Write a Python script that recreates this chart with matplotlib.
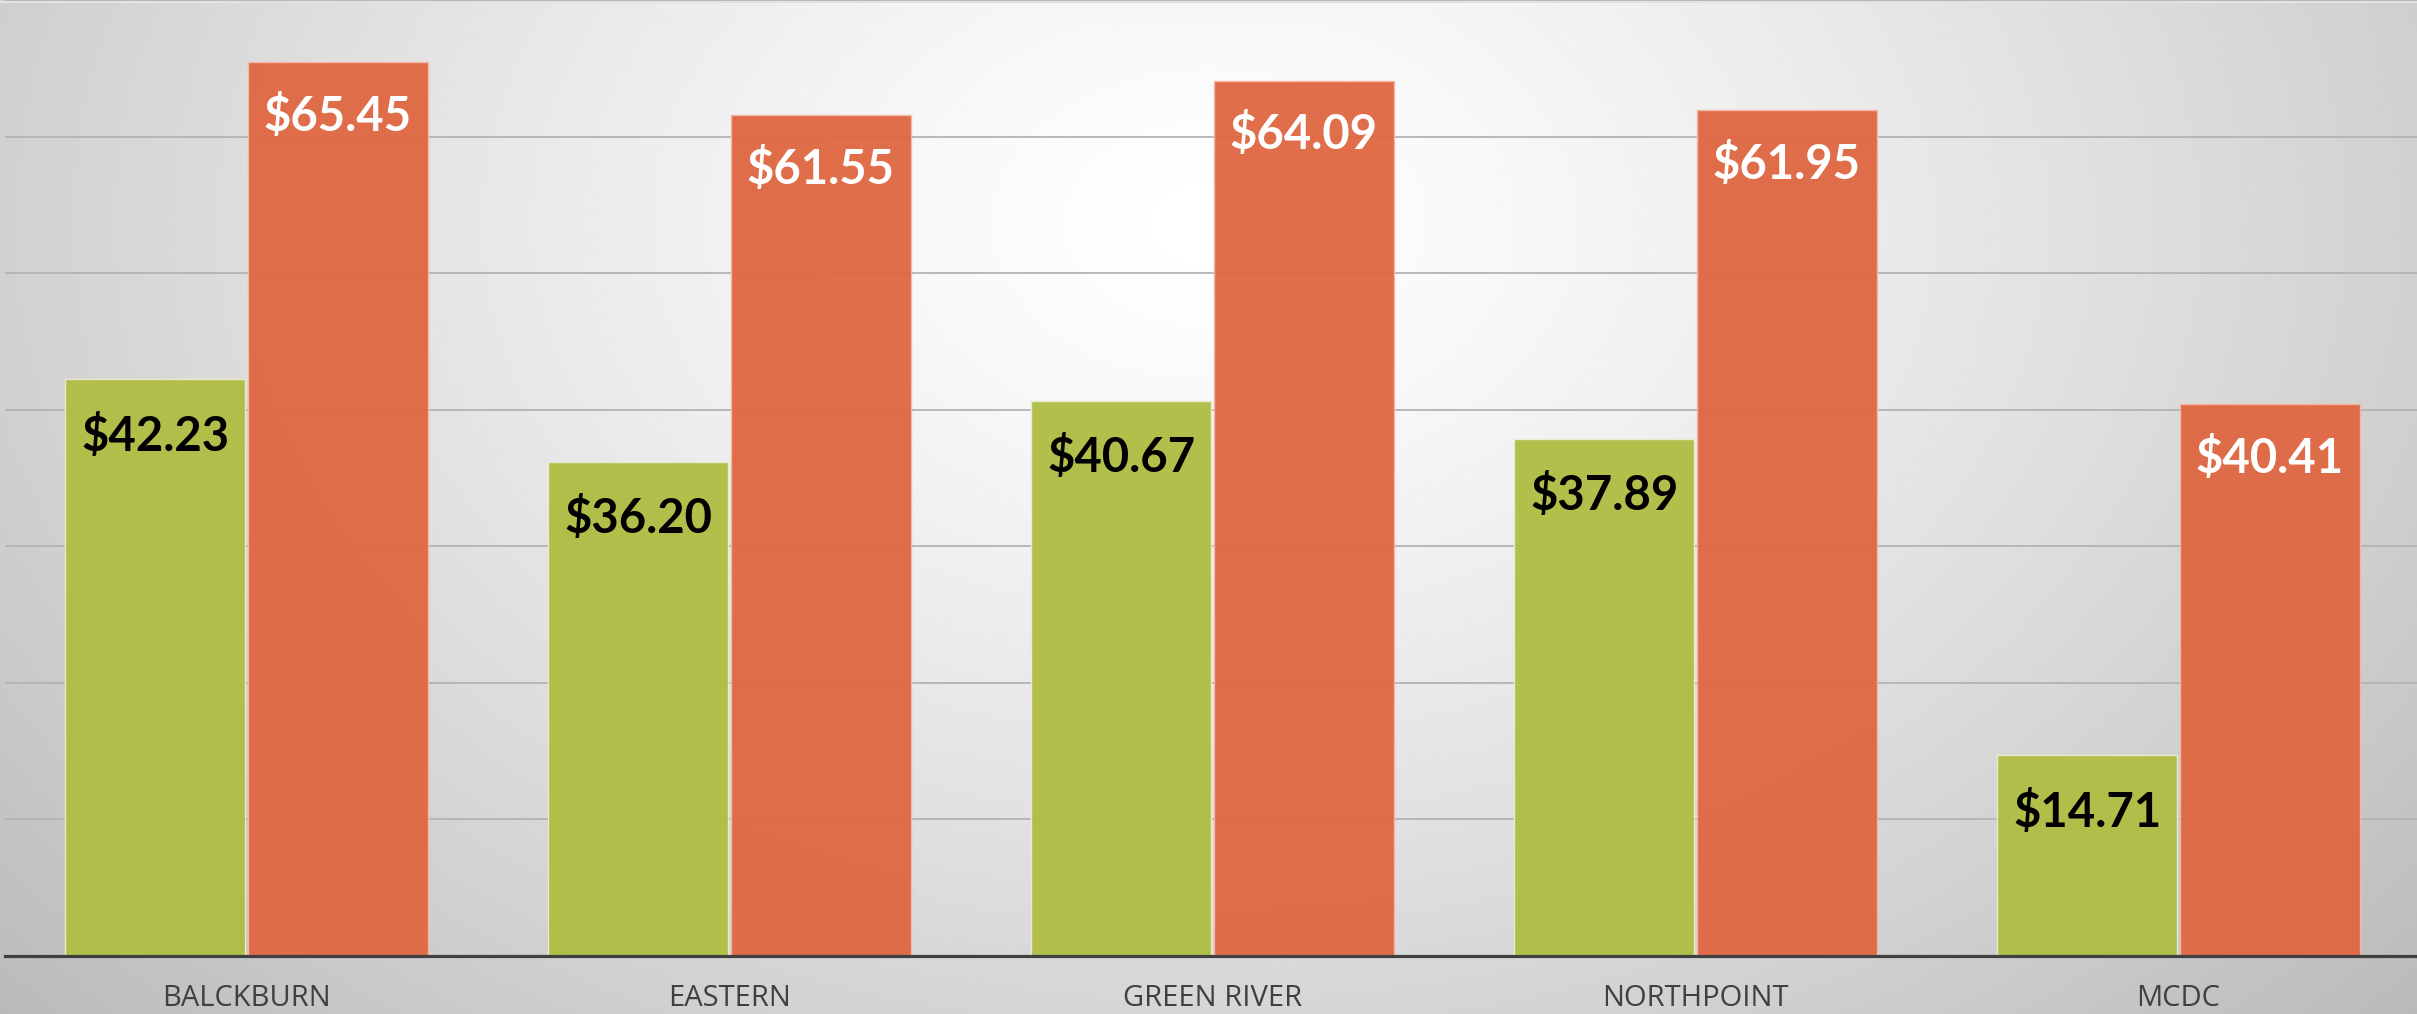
import numpy as np
import matplotlib
matplotlib.use("Agg")
import matplotlib.pyplot as plt
from matplotlib.patches import Rectangle

# Dados do gráfico
categories = ["BALCKBURN", "EASTERN", "GREEN RIVER", "NORTHPOINT", "MCDC"]
green_values = [42.23, 36.20, 40.67, 37.89, 14.71]
orange_values = [65.45, 61.55, 64.09, 61.95, 40.41]

GREEN = "#b0be45"
ORANGE = "#e06843"

W, H, DPI = 2417, 1014, 100
fig = plt.figure(figsize=(W / DPI, H / DPI), dpi=DPI)

# Fundo com gradiente radial (branco no centro, cinza nas bordas)
bg = fig.add_axes([0, 0, 1, 1], zorder=-10)
yy, xx = np.mgrid[0:1:400j, 0:1:800j]
r = np.sqrt(((xx - 0.5) / 0.62) ** 2 + ((yy - 0.78) / 1.05) ** 2)
shade = 1.0 - 0.24 * np.clip(r, 0, 1.2) ** 1.3
bg.imshow(shade, cmap="gray", vmin=0, vmax=1, origin="lower",
          extent=[0, 1, 0, 1], aspect="auto", interpolation="bilinear")
# caixa cortada no topo (resto da legenda/título) e linha fina no topo
bg.add_patch(Rectangle((995 / W, 1 - 24 / H), 432 / W, 23 / H, fc="#f6f6f6", ec="none"))
bg.axhline(1 - 1.5 / H, color="#e2e2e2", linewidth=1.5)
bg.set_xlim(0, 1)
bg.set_ylim(0, 1)
bg.axis("off")

ax = fig.add_axes([5 / W, 1 - 956 / H, 2415 / W, 956 / H])
ax.set_facecolor("none")

x = np.arange(len(categories))
bw = 0.373
off = 0.189
bars_g = ax.bar(x - off, green_values, bw, color=GREEN, alpha=0.97,
                edgecolor="#e9eccf", linewidth=1.0, zorder=3)
bars_o = ax.bar(x + off, orange_values, bw, color=ORANGE, alpha=0.96,
                edgecolor="#f3b9a6", linewidth=1.0, zorder=3)

label_font = ["Lato", "DejaVu Sans"]
for b, v in zip(bars_g, green_values):
    ax.annotate(f"${v:.2f}", (b.get_x() + b.get_width() / 2, v),
                xytext=(0, -41), textcoords="offset points", ha="center", va="center",
                fontsize=34, fontweight="bold", color="black", family=label_font, zorder=5)
for b, v in zip(bars_o, orange_values):
    ax.annotate(f"${v:.2f}", (b.get_x() + b.get_width() / 2, v),
                xytext=(0, -39), textcoords="offset points", ha="center", va="center",
                fontsize=34, fontweight="bold", color="white", family=label_font, zorder=5)

ax.set_xlim(-0.5, 4.5)
ax.set_ylim(0, 70)
ax.set_yticks(np.arange(0, 71, 10))
ax.yaxis.grid(True, color="#b3b3b3", linewidth=1.3, zorder=0)
ax.set_axisbelow(True)
ax.tick_params(axis="y", left=False, labelleft=False)
ax.set_xticks(x)
ax.set_xticklabels(categories, fontsize=21, color="#404040", family=["Open Sans", "DejaVu Sans"])
ax.tick_params(axis="x", length=0, pad=20)

for side in ["top", "left", "right"]:
    ax.spines[side].set_visible(False)
ax.spines["bottom"].set_color("#404040")
ax.spines["bottom"].set_linewidth(2.3)
ax.spines["bottom"].set_zorder(6)

fig.savefig("out.png", dpi=DPI)
